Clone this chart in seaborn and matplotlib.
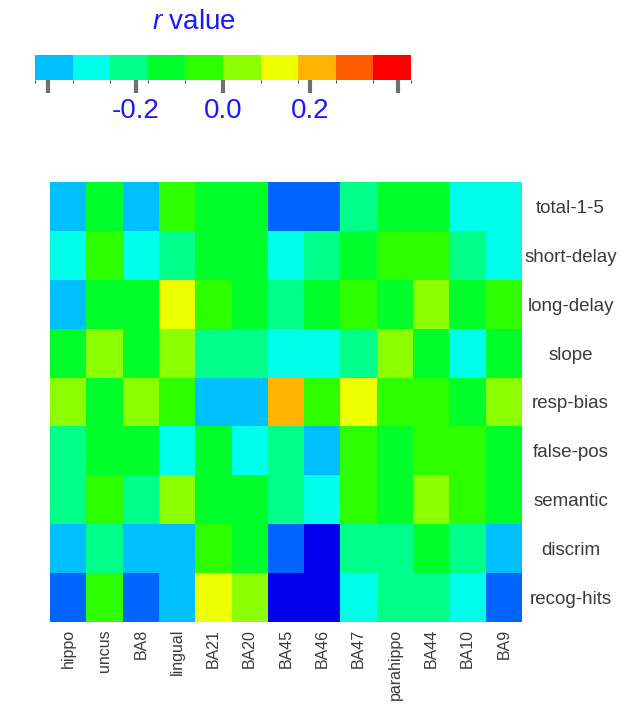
import numpy as np
import pandas as pd
import matplotlib
matplotlib.use("Agg")
import matplotlib.pyplot as plt
from matplotlib.colors import ListedColormap, BoundaryNorm
from matplotlib.cm import ScalarMappable
import seaborn as sns

sns.set_style("white")
plt.rcParams["font.family"] = ["Liberation Sans", "DejaVu Sans"]
plt.rcParams["mathtext.fontset"] = "custom"
plt.rcParams["mathtext.it"] = "Liberation Sans:italic"
plt.rcParams["mathtext.rm"] = "Liberation Sans"

regions = ["hippo", "uncus", "BA8", "lingual", "BA21", "BA20", "BA45", "BA46",
           "BA47", "parahippo", "BA44", "BA10", "BA9"]
measures = ["total-1-5", "short-delay", "long-delay", "slope", "resp-bias",
            "false-pos", "semantic", "discrim", "recog-hits"]

total_1_5   = [-0.39, -0.13, -0.39, -0.04, -0.13, -0.13, -0.47, -0.47, -0.21, -0.13, -0.13, -0.30, -0.30]
short_delay = [-0.30, -0.04, -0.30, -0.21, -0.13, -0.13, -0.30, -0.21, -0.13, -0.04, -0.04, -0.21, -0.30]
long_delay  = [-0.39, -0.13, -0.13, 0.13, -0.04, -0.13, -0.21, -0.13, -0.04, -0.13, 0.04, -0.13, -0.04]
slope       = [-0.13, 0.04, -0.13, 0.04, -0.21, -0.21, -0.30, -0.30, -0.21, 0.04, -0.13, -0.30, -0.13]
resp_bias   = [0.04, -0.13, 0.04, -0.04, -0.39, -0.39, 0.21, -0.04, 0.13, -0.04, -0.04, -0.13, 0.04]
false_pos   = [-0.21, -0.13, -0.13, -0.30, -0.13, -0.30, -0.21, -0.39, -0.04, -0.13, -0.04, -0.04, -0.13]
semantic    = [-0.21, -0.04, -0.21, 0.04, -0.13, -0.13, -0.21, -0.30, -0.04, -0.13, 0.04, -0.04, -0.13]
discrim     = [-0.39, -0.21, -0.39, -0.39, -0.04, -0.13, -0.47, -0.56, -0.21, -0.21, -0.13, -0.21, -0.39]
recog_hits  = [-0.47, -0.04, -0.47, -0.39, 0.13, 0.04, -0.56, -0.56, -0.30, -0.21, -0.21, -0.30, -0.47]

cbar_ticks = [-0.4, -0.2, 0.0, 0.2, 0.4]
cbar_labels = ["", "-0.2", "0.0", "0.2", ""]

df = pd.DataFrame([total_1_5, short_delay, long_delay, slope, resp_bias,
                   false_pos, semantic, discrim, recog_hits],
                  index=measures, columns=regions)

colors = ["#0000EE", "#0064FF", "#00BFFF", "#00FFEA", "#00FF88", "#00FF2A",
          "#2EFF00", "#8CFF00", "#EEFF00", "#FFB400", "#FF5A00", "#FF0000"]
step = 0.086
edges = [-0.602 + i * step for i in range(13)]
cmap = ListedColormap(colors)
norm = BoundaryNorm(edges, cmap.N)

W, H = 634, 706
fig = plt.figure(figsize=(W / 100, H / 100), dpi=100)
ax = fig.add_axes([50 / W, 1 - 622 / H, 472 / W, 440 / H])
sns.heatmap(df, cmap=cmap, norm=norm, cbar=False, ax=ax, linewidths=0)
ax.yaxis.tick_right()
ax.set_yticklabels(measures, rotation=0, ha="center", fontsize=13.5, color="#3a3a3a")
ax.set_xticklabels(regions, rotation=90, fontsize=11.5, color="#3a3a3a")
ax.tick_params(axis="y", length=0, pad=35)
ax.tick_params(axis="x", length=0, pad=5)
ax.set_xlabel("")
ax.set_ylabel("")

cax = fig.add_axes([35 / W, 1 - 80 / H, 376 / W, 25 / H])
sm = ScalarMappable(norm=BoundaryNorm(edges[2:], 10), cmap=ListedColormap(colors[2:]))
cb = fig.colorbar(sm, cax=cax, orientation="horizontal", ticks=cbar_ticks)
cb.set_ticklabels(cbar_labels)
cb.outline.set_visible(False)
cax.tick_params(length=9, width=3, color="#707070", labelsize=20,
                labelcolor="#1a1aff", pad=4)

fig.text(194 / W, 1 - 22 / H, r"$r$ value", color="#1a1aff", fontsize=20,
         ha="center", va="center")

fig.savefig("out.png", dpi=100, facecolor="white")
